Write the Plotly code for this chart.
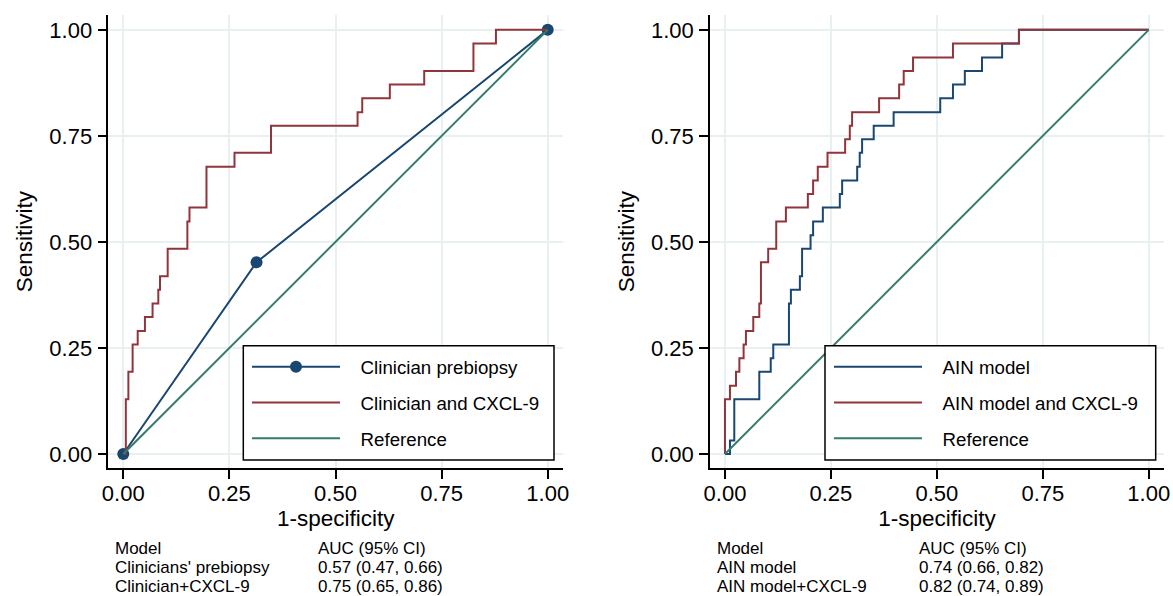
import plotly.graph_objects as go

# ---------------- data ----------------
tick_vals = [0, 0.25, 0.5, 0.75, 1.0]
tick_text = ["0.00", "0.25", "0.50", "0.75", "1.00"]

# Left panel
clin_fpr = [0.0, 0.314, 1.0]
clin_sens = [0.0, 0.452, 1.0]

clin_cx_fpr = [0.0, 0.006, 0.012, 0.022, 0.034, 0.051, 0.069, 0.0825, 0.0865, 0.1046,
               0.151, 0.156, 0.196, 0.262, 0.348, 0.552, 0.563, 0.628, 0.709, 0.825,
               0.878, 1.0]
clin_cx_sens = [0.0, 0.129, 0.194, 0.258, 0.290, 0.323, 0.355, 0.387, 0.419, 0.484,
                0.548, 0.581, 0.677, 0.710, 0.774, 0.806, 0.839, 0.871, 0.903, 0.968,
                1.0, 1.0]

ref_x = [0.0, 1.0]
ref_y = [0.0, 1.0]

# Right panel
ain_fpr = [0.0, 0.0118, 0.022, 0.081, 0.108, 0.114, 0.151, 0.1556, 0.1768, 0.182,
           0.202, 0.208, 0.231, 0.271, 0.2765, 0.312, 0.318, 0.3236, 0.351, 0.398,
           0.508, 0.538, 0.566, 0.6065, 0.654, 0.6937, 1.0]
ain_sens = [0.0, 0.032, 0.129, 0.194, 0.226, 0.258, 0.355, 0.387, 0.419, 0.484,
            0.516, 0.548, 0.581, 0.613, 0.645, 0.677, 0.710, 0.742, 0.774, 0.806,
            0.839, 0.871, 0.903, 0.935, 0.968, 1.0, 1.0]

ain_cx_fpr = [0.0, 0.0, 0.0118, 0.026, 0.034, 0.044, 0.0495, 0.0668, 0.081, 0.0849,
              0.102, 0.121, 0.1438, 0.1956, 0.208, 0.219, 0.242, 0.2836, 0.2946, 0.300,
              0.3637, 0.411, 0.4218, 0.4438, 0.538, 0.6937, 1.0]
ain_cx_sens = [0.0, 0.129, 0.161, 0.194, 0.226, 0.258, 0.290, 0.323, 0.355, 0.452,
               0.484, 0.548, 0.581, 0.613, 0.645, 0.677, 0.710, 0.742, 0.774, 0.806,
               0.839, 0.871, 0.903, 0.935, 0.968, 1.0, 1.0]

left_table_models = ["Model", "Clinicians' prebiopsy", "Clinician+CXCL-9"]
left_table_auc = ["AUC (95% CI)", "0.57 (0.47, 0.66)", "0.75 (0.65, 0.86)"]
right_table_models = ["Model", "AIN model", "AIN model+CXCL-9"]
right_table_auc = ["AUC (95% CI)", "0.74 (0.66, 0.82)", "0.82 (0.74, 0.89)"]

# ---------------- style ----------------
W, H = 1173, 596
FONT = "Liberation Sans, Arial, Helvetica, sans-serif"
NAVY = "#1a476f"
MAROON = "#90353b"
TEAL = "#357b6c"
GRID = "#e8f0f2"
PAD = "\u00a0\u00a0\u00a0"  # gap between legend key and label


def px(x):
    return x / W


def py(y):
    return 1 - y / H


fig = go.Figure()

# left panel
fig.add_trace(go.Scatter(x=clin_fpr, y=clin_sens, mode="lines+markers", name=PAD + "Clinician prebiopsy",
                         line=dict(color=NAVY, width=2), marker=dict(size=12, color=NAVY),
                         xaxis="x", yaxis="y", legend="legend", legendgroup="a"))
fig.add_trace(go.Scatter(x=clin_cx_fpr, y=clin_cx_sens, mode="lines", name=PAD + "Clinician and CXCL-9",
                         line=dict(color=MAROON, width=2, shape="hv"),
                         xaxis="x", yaxis="y", legend="legend", legendgroup="b"))
fig.add_trace(go.Scatter(x=ref_x, y=ref_y, mode="lines", name=PAD + "Reference",
                         line=dict(color=TEAL, width=2),
                         xaxis="x", yaxis="y", legend="legend", legendgroup="c"))

# right panel
fig.add_trace(go.Scatter(x=ain_fpr, y=ain_sens, mode="lines", name=PAD + "AIN model",
                         line=dict(color=NAVY, width=2, shape="hv"),
                         xaxis="x2", yaxis="y2", legend="legend2", legendgroup="d"))
fig.add_trace(go.Scatter(x=ain_cx_fpr, y=ain_cx_sens, mode="lines", name=PAD + "AIN model and CXCL-9",
                         line=dict(color=MAROON, width=2, shape="hv"),
                         xaxis="x2", yaxis="y2", legend="legend2", legendgroup="e"))
fig.add_trace(go.Scatter(x=ref_x, y=ref_y, mode="lines", name=PAD + "Reference",
                         line=dict(color=TEAL, width=2),
                         xaxis="x2", yaxis="y2", legend="legend2", legendgroup="f"))

xrange = [-0.0353, 1.036]
yrange = [-0.0337, 1.035]
ydom = [py(468.3), py(15)]

common_x = dict(range=xrange, tickvals=tick_vals, ticktext=tick_text, showgrid=True, gridcolor=GRID,
                gridwidth=1.5, zeroline=False, showline=True, linecolor="#000000", linewidth=1.5,
                ticks="outside", ticklen=9, tickwidth=1.5, tickcolor="#000000", ticklabelstandoff=-4,
                tickfont=dict(size=22, color="#000000", family=FONT), automargin=False,
                title=dict(text="1-specificity", font=dict(size=22.5, color="#000000", family=FONT), standoff=4),
                fixedrange=True)
common_y = dict(range=yrange, tickvals=tick_vals, ticktext=tick_text, showgrid=True, gridcolor=GRID,
                gridwidth=1.5, zeroline=False, showline=True, linecolor="#000000", linewidth=1.5,
                ticks="outside", ticklen=9, tickwidth=1.5, tickcolor="#000000", ticklabelstandoff=1,
                tickfont=dict(size=22, color="#000000", family=FONT), automargin=False,
                title=dict(text="Sensitivity", font=dict(size=22.5, color="#000000", family=FONT), standoff=10),
                domain=ydom, fixedrange=True)

legend_common = dict(xanchor="left", yanchor="top", bgcolor="rgba(0,0,0,0)", borderwidth=0,
                     font=dict(size=18.7, family=FONT, color="#000000"),
                     itemwidth=88, tracegroupgap=8.5, itemclick=False, itemdoubleclick=False)

fig.update_layout(
    width=W, height=H,
    margin=dict(l=0, r=0, t=0, b=0),
    paper_bgcolor="white", plot_bgcolor="white",
    font=dict(family=FONT, color="#000000"),
    xaxis=dict(common_x, domain=[px(108.3), px(563)], anchor="y"),
    yaxis=dict(common_y, anchor="x"),
    xaxis2=dict(common_x, domain=[px(710), px(1164)], anchor="y2"),
    yaxis2=dict(common_y, anchor="x2"),
    legend=dict(legend_common, x=px(247), y=py(348)),
    legend2=dict(legend_common, x=px(829), y=py(348)),
    showlegend=True,
)

# legend frames (drawn above the curves, below the legend)
for x0, x1 in [(243.3, 554), (825, 1155.7)]:
    fig.add_shape(type="rect", xref="paper", yref="paper", x0=px(x0), x1=px(x1), y0=py(460), y1=py(345.7),
                  line=dict(color="#000000", width=1.5), fillcolor="white", layer="above")

# AUC tables
rows_y = [548.0, 567.0, 586.0]
for (cx1, cx2, models, aucs) in [(113, 316, left_table_models, left_table_auc),
                                 (715, 917, right_table_models, right_table_auc)]:
    for yy, m, a in zip(rows_y, models, aucs):
        fig.add_annotation(x=px(cx1), y=py(yy), xref="paper", yref="paper", text=m, showarrow=False,
                           xanchor="left", yanchor="middle", font=dict(size=17, family=FONT, color="#000000"))
        fig.add_annotation(x=px(cx2), y=py(yy), xref="paper", yref="paper", text=a, showarrow=False,
                           xanchor="left", yanchor="middle", font=dict(size=17, family=FONT, color="#000000"))

fig.write_html("out.html")
